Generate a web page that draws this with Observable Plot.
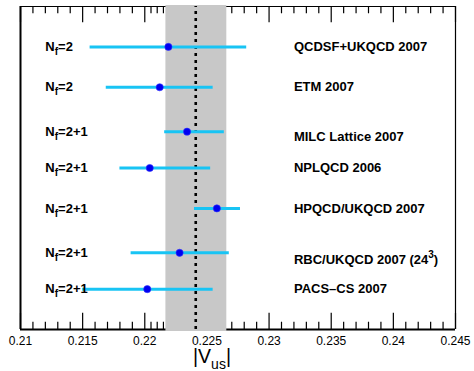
<!DOCTYPE html>
<html>
<head>
<meta charset="utf-8">
<script src="https://cdn.jsdelivr.net/npm/d3@7"></script>
<script src="https://cdn.jsdelivr.net/npm/@observablehq/plot@0.6"></script>
<style>
  html, body { margin: 0; padding: 0; background: #fff; }
  #chart { width: 474px; height: 371px; }
  svg { font-family: "Liberation Sans", Arial, Helvetica, sans-serif; }
</style>
</head>
<body>
<div id="chart"></div>
<script>
// Lattice determinations of |V_us|, one row per collaboration
const collaborations = ["QCDSF+UKQCD 2007", "ETM 2007", "MILC Lattice 2007", "NPLQCD 2006",
                        "HPQCD/UKQCD 2007", "RBC/UKQCD 2007 (24^{3})", "PACS\u2013CS 2007"];
const flavours = ["N_{f}=2", "N_{f}=2", "N_{f}=2+1", "N_{f}=2+1", "N_{f}=2+1", "N_{f}=2+1", "N_{f}=2+1"];
const central = [0.2219, 0.2212, 0.2234, 0.2204, 0.2258, 0.2228, 0.2202];
const lower   = [0.2156, 0.2169, 0.2216, 0.2180, 0.2240, 0.2189, 0.2150];
const upper   = [0.2282, 0.2255, 0.2264, 0.2253, 0.2277, 0.2268, 0.2255];
const rowPos  = [7, 6, 4.9, 4, 3, 1.9, 1];
const namePos = [7, 6, 4.78, 4, 3, 1.73, 1];

// Average band and its central value
const bandLow = 0.2217, bandHigh = 0.2266;
const average = 0.2241;

// Axis ticks
const majorTicks = [0.21, 0.215, 0.22, 0.225, 0.23, 0.235, 0.24, 0.245];
const minorTicks = d3.range(211, 245).map(d => d / 1000)
  .filter(d => !majorTicks.some(m => Math.abs(m - d) < 1e-9))
  .concat([0.2205, 0.2215]);

const rows = collaborations.map((name, i) => ({
  name, nf: flavours[i], v: central[i], lo: lower[i], hi: upper[i], y: rowPos[i], yName: namePos[i]
}));

const xLabelLeft = 0.212, xLabelRight = 0.232;
const yMin = 0, yMax = 8;
const majorLen = 0.4, minorLen = 0.18;

const plot = Plot.plot({
  width: 474,
  height: 371,
  marginLeft: 20,
  marginRight: 19,
  marginTop: 6,
  marginBottom: 42,
  x: {domain: [0.21, 0.245]},
  y: {domain: [yMin, yMax], axis: null},
  style: {fontFamily: "Liberation Sans, Arial, sans-serif", background: "white"},
  marks: [
    // frame
    Plot.ruleY([yMin], {stroke: "black", strokeWidth: 2}),
    Plot.ruleY([yMax], {stroke: "black", strokeWidth: 1.2}),
    Plot.ruleX([0.21], {stroke: "black", strokeWidth: 2}),
    Plot.ruleX([0.245], {stroke: "black", strokeWidth: 1.2}),
    // inward ticks on bottom and top
    Plot.ruleX(majorTicks, {x: d => d, y1: yMin, y2: yMin + majorLen, stroke: "black", strokeWidth: 1.2}),
    Plot.ruleX(minorTicks, {x: d => d, y1: yMin, y2: yMin + minorLen, stroke: "black", strokeWidth: 1.2}),
    Plot.ruleX(majorTicks, {x: d => d, y1: yMax, y2: yMax - majorLen, stroke: "black", strokeWidth: 1.2}),
    Plot.ruleX(minorTicks, {x: d => d, y1: yMax, y2: yMax - minorLen, stroke: "black", strokeWidth: 1.2}),
    Plot.axisX({ticks: majorTicks, tickSize: 0, tickPadding: 7, tickFormat: d => String(d),
                fontSize: 12, label: null}),
    // average band
    Plot.rect([0], {x1: () => bandLow, x2: () => bandHigh, y1: yMin, y2: yMax, fill: "#c8c8c8", insetTop: -1, insetBottom: -2}),
    Plot.ruleX([average], {y1: yMin, y2: yMax, stroke: "black", strokeWidth: 2.6, strokeDasharray: "3,4"}),
    // error bars and central values
    Plot.ruleY(rows, {y: "y", x1: "lo", x2: "hi", stroke: "#18c4f4", strokeWidth: 3}),
    Plot.dot(rows, {x: "v", y: "y", r: 3.6, fill: "#0000f0", stroke: "#3030ff", strokeWidth: 0.6}),
    // labels
    Plot.text(rows, {x: () => xLabelLeft, y: "y", text: "nf", textAnchor: "start",
                     fontSize: 13, fontWeight: "bold", fill: "black"}),
    Plot.text(rows, {x: () => xLabelRight, y: "yName", text: "name", textAnchor: "start",
                     fontSize: 13, fontWeight: "bold", fill: "black"})
  ]
});

document.getElementById("chart").appendChild(plot);

// Render _{...} and ^{...} as sub/superscripts
const NS = "http://www.w3.org/2000/svg";
function setRich(el, str, smallSize, subShift, supShift) {
  el.textContent = "";
  const re = /([_^])\{([^}]*)\}/g;
  let last = 0, m, offset = 0;
  const add = (t, target, size) => {
    if (!t) return;
    const ts = document.createElementNS(NS, "tspan");
    ts.textContent = t;
    if (target !== offset) { ts.setAttribute("dy", target - offset); offset = target; }
    if (size) ts.setAttribute("font-size", size);
    el.appendChild(ts);
  };
  while ((m = re.exec(str))) {
    add(str.slice(last, m.index), 0);
    add(m[2], m[1] === "_" ? subShift : -supShift, smallSize);
    last = re.lastIndex;
  }
  add(str.slice(last), 0);
}
d3.select(plot).selectAll("text").each(function () {
  const s = this.textContent;
  if (/[_^]\{/.test(s)) setRich(this, s, 10, 4, 6);
});

// Axis title |V_us|
const title = d3.select(plot).append("text")
  .attr("x", 212).attr("y", 363)
  .attr("font-size", 19.5).attr("fill", "black");
setRich(title.node(), "|V_{us}|", 14, 6, 0);
</script>
</body>
</html>
